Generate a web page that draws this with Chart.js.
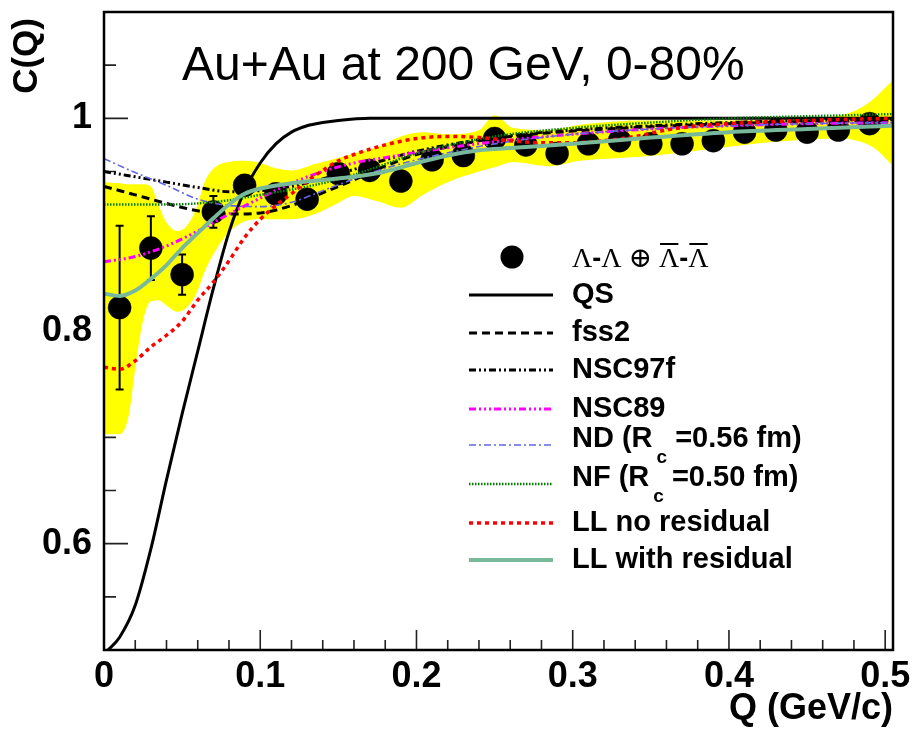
<!DOCTYPE html>
<html><head><meta charset="utf-8">
<script src="https://cdn.jsdelivr.net/npm/chart.js@4.4.1/dist/chart.umd.min.js"></script>
<style>html,body{margin:0;padding:0;background:#fff;overflow:hidden}#wrap{width:912px;height:729px}</style>
</head><body><div id="wrap"><canvas id="c" width="912" height="729"></canvas></div>
<script>
// ---------- data ----------
const titleText = 'Au+Au at 200 GeV, 0-80%';
const xTitle = 'Q (GeV/c)';
const yTitle = 'C(Q)';
const xTickLabels = ['0', '0.1', '0.2', '0.3', '0.4', '0.5'];
const yTickLabels = ['0.6', '0.8', '1'];

const pointQ = [0.01,0.03,0.05,0.07,0.09,0.11,0.13,0.15,0.17,0.19,0.21,0.23,0.25,0.27,0.29,0.31,0.33,0.35,0.37,0.39,0.41,0.43,0.45,0.47,0.49];
const pointC = [0.822,0.878,0.853,0.912,0.937,0.929,0.924,0.948,0.951,0.941,0.961,0.965,0.981,0.975,0.967,0.976,0.979,0.976,0.976,0.979,0.987,0.989,0.987,0.989,0.995];
const pointErr = [0.077,0.030,0.019,0.015,0.009,0.008,0.008,0.007,0.007,0.007,0.006,0.006,0.006,0.006,0.006,0.005,0.005,0.005,0.005,0.005,0.005,0.005,0.005,0.005,0.005];

const bandQ    = [0,0.01,0.016,0.02,0.025,0.03,0.035,0.04,0.047,0.053,0.059,0.065,0.072,0.08,0.09,0.1,0.11,0.12,0.135,0.148,0.16,0.175,0.19,0.204,0.22,0.24,0.25,0.262,0.285,0.305,0.345,0.387,0.43,0.472,0.482,0.493,0.505];
const bandHigh = [0.940,0.939,0.938,0.938,0.938,0.936,0.918,0.902,0.894,0.899,0.915,0.942,0.955,0.959,0.960,0.958,0.953,0.951,0.957,0.962,0.967,0.973,0.983,0.987,0.985,0.989,1.003,0.991,0.989,0.994,0.998,0.998,0.999,1.003,1.008,1.019,1.036];
const bandLow  = [0.703,0.703,0.722,0.765,0.810,0.828,0.829,0.824,0.818,0.822,0.835,0.858,0.877,0.893,0.903,0.905,0.905,0.905,0.910,0.919,0.927,0.922,0.916,0.928,0.940,0.950,0.954,0.959,0.955,0.960,0.964,0.971,0.978,0.981,0.979,0.972,0.955];

const qsQ = [0.002,0.01,0.02,0.03,0.04,0.05,0.06,0.07,0.08,0.09,0.10,0.11,0.12,0.13,0.14,0.15,0.17,0.2,0.3,0.4,0.505];
const qsC = [0.499,0.512,0.542,0.595,0.660,0.722,0.781,0.840,0.893,0.932,0.958,0.976,0.987,0.993,0.996,0.998,1.0,1.0,1.0,1.0,1.0];

const modelQ   = [0,0.02,0.04,0.06,0.08,0.10,0.12,0.14,0.16,0.18,0.20,0.25,0.30,0.35,0.40,0.45,0.505];
const fss2C    = [0.936,0.928,0.920,0.913,0.910,0.911,0.918,0.930,0.942,0.955,0.966,0.981,0.988,0.992,0.995,0.997,0.998];
const nsc97fC  = [0.950,0.945,0.940,0.935,0.931,0.932,0.936,0.943,0.952,0.961,0.969,0.982,0.989,0.993,0.996,0.998,0.999];
const nsc89C   = [0.865,0.870,0.880,0.894,0.910,0.925,0.939,0.950,0.958,0.963,0.968,0.978,0.985,0.990,0.993,0.995,0.996];
const ndC      = [0.962,0.949,0.937,0.924,0.918,0.917,0.921,0.932,0.943,0.953,0.961,0.976,0.985,0.990,0.993,0.995,0.996];
const nfC      = [0.919,0.919,0.919,0.920,0.923,0.928,0.933,0.939,0.947,0.957,0.967,0.983,0.991,0.996,1.000,1.002,1.004];

const llNoQ = [0,0.01,0.02,0.03,0.04,0.05,0.06,0.07,0.08,0.09,0.10,0.11,0.12,0.13,0.14,0.15,0.16,0.18,0.20,0.22,0.24,0.26,0.28,0.30,0.32,0.34,0.36,0.38,0.40,0.45,0.505];
const llNoC = [0.766,0.764,0.772,0.785,0.796,0.809,0.829,0.846,0.866,0.888,0.905,0.918,0.929,0.941,0.951,0.960,0.966,0.975,0.981,0.983,0.982,0.979,0.977,0.977,0.979,0.983,0.989,0.993,0.995,0.998,1.0];

const llResQ = [0,0.01,0.02,0.03,0.04,0.05,0.06,0.07,0.08,0.09,0.10,0.12,0.14,0.16,0.18,0.20,0.22,0.24,0.26,0.28,0.30,0.35,0.40,0.45,0.505];
const llResC = [0.835,0.833,0.838,0.849,0.862,0.878,0.892,0.906,0.919,0.929,0.934,0.939,0.942,0.945,0.950,0.958,0.965,0.970,0.972,0.974,0.976,0.982,0.987,0.990,0.993];

const dataLabel = 'Λ-Λ ⊕ Λ-Λ';
// ---------- build ----------
const toXY = (xs, ys) => xs.map((x, i) => ({x: x, y: ys[i]}));
const SANS = '"Liberation Sans", Arial, sans-serif';
const SERIF = '"Liberation Serif", "DejaVu Serif", serif';

function curve(label, q, c, color, width, dash, order) {
  return {label, data: toXY(q, c), showLine: true, pointRadius: 0, borderColor: color,
    borderWidth: width, borderDash: dash, fill: false, order, cubicInterpolationMode: 'monotone'};
}

const datasets = [
  {label: 'band high', data: toXY(bandQ, bandHigh), showLine: true, pointRadius: 0, borderColor: 'rgba(0,0,0,0)', borderWidth: 1, fill: false, order: 30, cubicInterpolationMode: 'monotone'},
  {label: 'band low', data: toXY(bandQ, bandLow), showLine: true, pointRadius: 0, borderColor: 'rgba(0,0,0,0)', borderWidth: 1, fill: '-1', backgroundColor: '#ffff00', order: 29, cubicInterpolationMode: 'monotone'},
  {label: dataLabel, data: toXY(pointQ, pointC), showLine: false, pointRadius: 11.5, pointBackgroundColor: '#000', pointBorderColor: '#000', pointBorderWidth: 0.5, order: 20},
  curve('QS', qsQ, qsC, '#000000', 3, [], 9),
  curve('fss2', modelQ, fss2C, '#000000', 3, [8, 5], 8),
  curve('NSC97f', modelQ, nsc97fC, '#000000', 3, [7, 3, 2, 3, 2, 3], 7),
  curve('NSC89', modelQ, nsc89C, '#ff00ff', 3, [7, 3, 2, 3, 2, 3, 2, 3], 6),
  curve('ND (R_c =0.56 fm)', modelQ, ndC, '#6464e6', 1.6, [7, 3, 2, 3], 5),
  curve('NF (R_c =0.50 fm)', modelQ, nfC, '#007f00', 2.4, [1.5, 1.5], 4),
  curve('LL no residual', llNoQ, llNoC, '#ff0000', 3.5, [4, 4], 3),
  curve('LL with residual', llResQ, llResC, '#79b99b', 4, [], 2)
];
const POINTS = 2;

function labelFor(list, v) {
  for (const s of list) if (Math.abs(Number(s) - v) < 1e-6) return s;
  return '';
}
function isMultiple(v, step) { const r = v / step; return Math.abs(r - Math.round(r)) < 1e-6; }

const decor = {
  id: 'decor',
  beforeDatasetsDraw(chart) {
    const {ctx, chartArea: a, scales: {x, y}} = chart;
    ctx.save();
    ctx.strokeStyle = '#222'; ctx.lineWidth = 1.6;
    ctx.beginPath();
    x.ticks.forEach(t => {
      const px = x.getPixelForValue(t.value);
      const len = isMultiple(t.value, 0.1) ? 20 : 10;
      ctx.moveTo(px, a.bottom); ctx.lineTo(px, a.bottom - len);
    });
    y.ticks.forEach(t => {
      const py = y.getPixelForValue(t.value);
      const len = isMultiple(t.value, 0.2) ? 24 : 12;
      ctx.moveTo(a.left, py); ctx.lineTo(a.left + len, py);
    });
    ctx.stroke();
    ctx.restore();
  },
  beforeDatasetDraw(chart, args) {
    if (args.index !== POINTS) return;
    const {ctx, scales: {x, y}} = chart;
    ctx.save();
    ctx.strokeStyle = '#000'; ctx.lineWidth = 2;
    ctx.beginPath();
    pointQ.forEach((q, i) => {
      const px = x.getPixelForValue(q);
      const top = y.getPixelForValue(pointC[i] + pointErr[i]);
      const bot = y.getPixelForValue(pointC[i] - pointErr[i]);
      ctx.moveTo(px, top); ctx.lineTo(px, bot);
      ctx.moveTo(px - 4, top); ctx.lineTo(px + 4, top);
      ctx.moveTo(px - 4, bot); ctx.lineTo(px + 4, bot);
    });
    ctx.stroke();
    ctx.restore();
  },
  afterDatasetsDraw(chart) {
    const {ctx, chartArea: a} = chart;
    ctx.save();
    ctx.strokeStyle = '#000'; ctx.lineWidth = 2.5;
    ctx.strokeRect(a.left, a.top, a.right - a.left, a.bottom - a.top);
    ctx.restore();
  },
  afterDraw(chart) {
    const {ctx, chartArea: a} = chart;
    ctx.save();
    ctx.fillStyle = '#000';
    ctx.font = '48px ' + SANS; ctx.textAlign = 'left'; ctx.textBaseline = 'alphabetic';
    ctx.fillText(titleText, 182, 80);
    ctx.font = 'bold 36px ' + SANS; ctx.textAlign = 'right';
    ctx.fillText(xTitle, a.right, 719);
    ctx.save();
    ctx.font = 'bold 35px ' + SANS;
    ctx.translate(37, 18); ctx.rotate(-Math.PI / 2);
    ctx.textAlign = 'right'; ctx.fillText(yTitle, 0, 0);
    ctx.restore();

    // legend
    const lineX0 = 469, lineX1 = 553, textX = 572;
    const rows = [
      {ds: 3, ly: 295, ty: 295}, {ds: 4, ly: 333, ty: 333}, {ds: 5, ly: 370, ty: 370},
      {ds: 6, ly: 409, ty: 409}, {ds: 7, ly: 445, ty: 439}, {ds: 8, ly: 484, ty: 478},
      {ds: 9, ly: 523, ty: 523}, {ds: 10, ly: 560, ty: 560}
    ];
    ctx.beginPath(); ctx.arc(512, 257, 11.5, 0, Math.PI * 2); ctx.fill();
    {
      let xx = textX; const yy = 260;
      let lamCount = 0;
      ctx.textAlign = 'left'; ctx.textBaseline = 'middle';
      for (const ch of dataLabel.split('')) {
        if (ch === '-') ctx.font = 'bold 27px ' + SANS; else ctx.font = '28px ' + SERIF;
        const w = ctx.measureText(ch).width;
        ctx.fillText(ch, xx, yy);
        if (ch === 'Λ') {
          lamCount++;
          if (lamCount > 2) {
            ctx.save(); ctx.lineWidth = 2; ctx.strokeStyle = '#000';
            ctx.beginPath(); ctx.moveTo(xx + 1, 244); ctx.lineTo(xx + w - 1, 244); ctx.stroke();
            ctx.restore();
          }
        }
        xx += w;
      }
    }
    rows.forEach(r => {
      const ds = chart.data.datasets[r.ds];
      ctx.save();
      ctx.strokeStyle = ds.borderColor; ctx.lineWidth = ds.borderWidth;
      ctx.setLineDash(ds.borderDash || []);
      ctx.beginPath(); ctx.moveTo(lineX0, r.ly); ctx.lineTo(lineX1, r.ly); ctx.stroke();
      ctx.restore();
      ctx.font = 'bold 29px ' + SANS; ctx.textAlign = 'left'; ctx.textBaseline = 'middle';
      const lab = ds.label;
      const k = lab.indexOf('_');
      if (k < 0) {
        ctx.fillText(lab, textX, r.ty);
      } else {
        const pre = lab.slice(0, k), sub = lab.charAt(k + 1), post = lab.slice(k + 2);
        ctx.fillText(pre, textX, r.ty);
        let xx = textX + ctx.measureText(pre).width + 4;
        ctx.font = 'bold 19px ' + SANS;
        ctx.fillText(sub, xx, r.ty + 19);
        xx += ctx.measureText(sub).width;
        ctx.font = 'bold 29px ' + SANS;
        ctx.fillText(post, xx, r.ty);
      }
    });
    ctx.restore();
  }
};

new Chart(document.getElementById('c'), {
  type: 'scatter',
  data: {datasets},
  options: {
    responsive: false, animation: false, devicePixelRatio: 1, events: [],
    layout: {padding: {left: 0, top: 7, right: 19, bottom: 0}},
    plugins: {legend: {display: false}, tooltip: {enabled: false}, title: {display: false}},
    scales: {
      x: {
        type: 'linear', position: 'bottom', min: 0, max: 0.505,
        grid: {display: false}, border: {display: false},
        afterFit: s => { s.height = 79; s.paddingLeft = 0; s.paddingRight = 0; },
        ticks: {stepSize: 0.02, includeBounds: false, autoSkip: false, maxRotation: 0, minRotation: 0, padding: -3,
          color: '#000', font: {family: SANS, weight: 'bold', size: 36},
          callback: v => labelFor(xTickLabels, v)}
      },
      y: {
        type: 'linear', position: 'left', min: 0.5, max: 1.1,
        grid: {display: false}, border: {display: false},
        afterFit: s => { s.width = 104; s.paddingTop = 0; s.paddingBottom = 0; },
        ticks: {stepSize: 0.05, autoSkip: false, padding: 4,
          color: '#000', font: {family: SANS, weight: 'bold', size: 36},
          callback: v => labelFor(yTickLabels, v)}
      }
    }
  },
  plugins: [decor]
});
</script>
</body></html>
